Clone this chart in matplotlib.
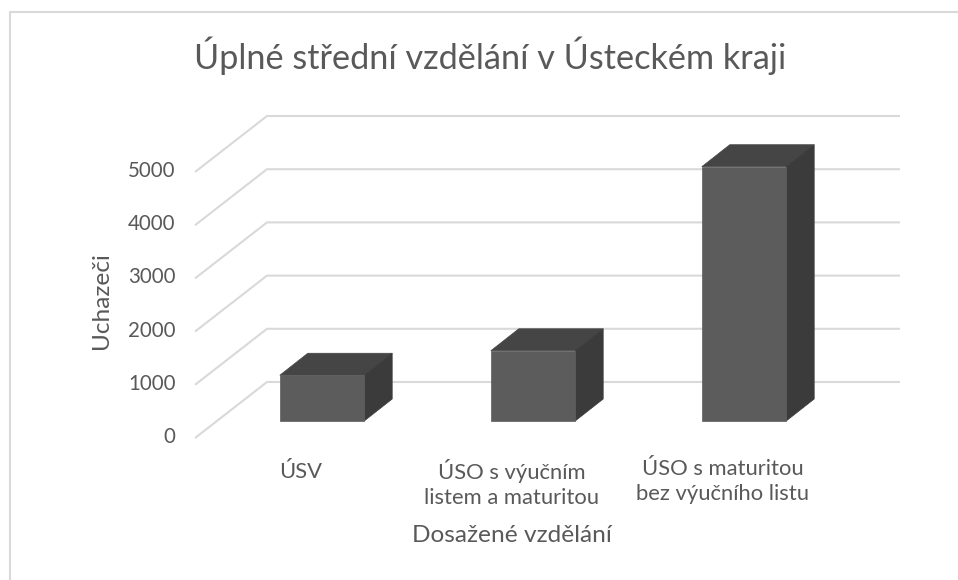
#!/usr/bin/env python

import matplotlib
matplotlib.use("Agg")
import matplotlib.pyplot as plt
from matplotlib.lines import Line2D
from matplotlib.patches import Polygon
from matplotlib.transforms import Affine2D, IdentityTransform
import numpy as np

plt.rcParams['font.family'] = ['Lato', 'DejaVu Sans']

categories = ["ÚSV", "ÚSO s výučním\nlistem a maturitou", "ÚSO s maturitou\nbez výučního listu"]
applicants = [860, 1320, 4780]
y_ticks = [0, 1000, 2000, 3000, 4000, 5000]

W, H = 958, 580
TEXT = "#595959"
GRID = "#d9d9d9"

# depth of the fake 3d box in pixels
WALL_DX, WALL_DY = 72, 56
GAP_DX, GAP_DY = 21.5, 17
BAR_DX, BAR_DY = 28, 22
BAR_WIDTH = 0.4

fig = plt.figure(figsize=(W / 100, H / 100), dpi=100)
ax = fig.add_axes([195 / W, (H - 438) / H, 633 / W, 266 / H])
ax.set_xlim(-0.5, 2.5)
ax.set_ylim(0, 5000)
ax.patch.set_visible(False)
for spine in ax.spines.values():
    spine.set_visible(False)


def pt(x, v, dx=0, dy=0):
    # data point pushed back along the depth direction, in display pixels
    return ax.transData.transform((x, v)) + np.array([dx, dy])


def face(points, color):
    ax.add_patch(Polygon(points, closed=True, facecolor=color, edgecolor=color, lw=0.5,
                         transform=IdentityTransform(), zorder=3, clip_on=False))


for v in y_ticks:
    line = np.array([pt(-0.5, v), pt(-0.5, v, WALL_DX, WALL_DY), pt(2.5, v, WALL_DX, WALL_DY)])
    ax.add_line(Line2D(line[:, 0], line[:, 1], color=GRID, lw=1.5, solid_capstyle='butt',
                       transform=IdentityTransform(), zorder=1, clip_on=False))

for i, val in enumerate(applicants):
    x0, x1 = i - BAR_WIDTH / 2, i + BAR_WIDTH / 2
    d0 = (GAP_DX, GAP_DY)
    d1 = (GAP_DX + BAR_DX, GAP_DY + BAR_DY)
    face([pt(x0, val, *d0), pt(x1, val, *d0), pt(x1, val, *d1), pt(x0, val, *d1)], "#454545")
    face([pt(x1, 0, *d0), pt(x1, val, *d0), pt(x1, val, *d1), pt(x1, 0, *d1)], "#3b3b3b")
    face([pt(x0, 0, *d0), pt(x1, 0, *d0), pt(x1, val, *d0), pt(x0, val, *d0)], "#5c5c5c")

ax.set_xticks(range(len(categories)))
ax.set_xticklabels(categories, linespacing=1.32)
ax.set_yticks(y_ticks)
ax.tick_params(axis='x', length=0, pad=15, labelsize=15.8, labelcolor=TEXT)
ax.tick_params(axis='y', length=0, pad=14, labelsize=14.8, labelcolor=TEXT)
for lab in ax.get_yticklabels():
    lab.set_transform(lab.get_transform() + Affine2D().translate(0, 3))
# single line label sits a bit lower in the original
first = ax.get_xticklabels()[0]
first.set_transform(first.get_transform() + Affine2D().translate(0, -3))

ax.set_xlabel("Dosažené vzdělání", fontsize=17.6, color=TEXT)
ax.xaxis.set_label_coords(0.5, -0.327)
ax.set_ylabel("Uchazeči", fontsize=17.6, color=TEXT)
ax.yaxis.set_label_coords(-0.131, 0.515)
ax.set_title("Úplné střední vzdělání v Ústeckém kraji", fontsize=24.7, color=TEXT,
             x=0.466, y=1.407, va='center')

# chart frame, only top and left survive in the screenshot
fig.add_artist(Line2D([9.5 / W, 9.5 / W, 1], [0, (H - 11.5) / H, (H - 11.5) / H],
                      color=GRID, lw=1.5, transform=fig.transFigure))

fig.savefig("out.png", dpi=100)
